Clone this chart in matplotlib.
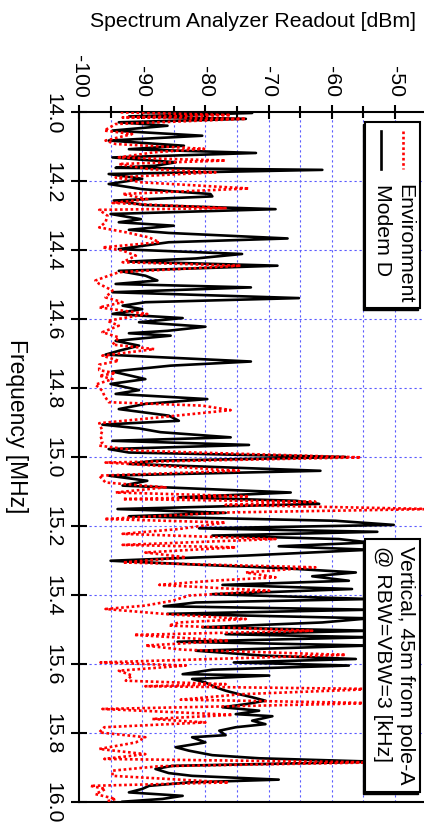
import matplotlib
matplotlib.use("Agg")
import matplotlib.pyplot as plt
from matplotlib.patches import Rectangle
from matplotlib.lines import Line2D
from matplotlib.ticker import MultipleLocator

plt.rcParams['font.family'] = ['Liberation Sans', 'DejaVu Sans']

# ---------------- data ----------------
modem_freq = [14.000, 14.002, 14.012, 14.019, 14.029, 14.039, 14.053, 14.068, 14.082, 14.097,
              14.107, 14.118, 14.131, 14.145, 14.155, 14.161, 14.167, 14.179, 14.193, 14.208,
              14.223, 14.237, 14.244, 14.256, 14.269, 14.281, 14.295, 14.310, 14.319, 14.329,
              14.341, 14.350, 14.366, 14.377, 14.397, 14.411, 14.424, 14.433, 14.445, 14.460,
              14.474, 14.488, 14.498, 14.508, 14.522, 14.539, 14.551, 14.561, 14.571, 14.585,
              14.597, 14.609, 14.622, 14.634, 14.641, 14.648, 14.663, 14.677, 14.692, 14.703,
              14.723, 14.735, 14.752, 14.774, 14.788, 14.806, 14.817, 14.832, 14.846, 14.861,
              14.880, 14.895, 14.906, 14.917, 14.928, 14.943, 14.953, 14.965, 14.977, 14.987,
              15.000, 15.011, 15.020, 15.040, 15.054, 15.069, 15.083, 15.103, 15.117, 15.127,
              15.136, 15.151, 15.162, 15.172, 15.185, 15.197, 15.207, 15.217, 15.228, 15.238,
              15.248, 15.259, 15.269, 15.286, 15.301, 15.313, 15.323, 15.335, 15.346, 15.359,
              15.371, 15.383, 15.398, 15.412, 15.422, 15.433, 15.443, 15.455, 15.468, 15.480,
              15.494, 15.504, 15.514, 15.523, 15.536, 15.547, 15.562, 15.576, 15.586, 15.596,
              15.605, 15.617, 15.630, 15.634, 15.644, 15.654, 15.668, 15.678, 15.688, 15.697,
              15.707, 15.717, 15.726, 15.736, 15.746, 15.752, 15.765, 15.775, 15.784, 15.794,
              15.807, 15.813, 15.828, 15.842, 15.852, 15.865, 15.874, 15.884, 15.896, 15.905,
              15.917, 15.925, 15.936, 15.944, 15.954, 15.963, 15.973, 15.983, 15.992, 16.000]
modem_dbm = [-90.0, -72.6, -92.1, -73.6, -93.7, -86.0, -94.7, -80.5, -95.3, -83.4,
             -92.1, -72.0, -94.7, -84.7, -87.9, -94.2, -61.5, -95.3, -90.0, -95.3,
             -90.0, -79.2, -78.9, -94.5, -89.5, -68.9, -95.0, -90.2, -93.7, -85.0,
             -92.1, -85.8, -67.0, -85.8, -93.7, -74.2, -81.5, -92.1, -68.6, -93.7,
             -89.5, -87.6, -94.2, -72.8, -94.7, -65.2, -89.5, -93.1, -90.0, -94.7,
             -83.6, -90.5, -80.0, -86.0, -92.1, -85.5, -94.2, -90.5, -93.7, -95.8,
             -72.8, -85.5, -94.7, -89.5, -95.0, -90.5, -94.2, -79.7, -89.5, -93.7,
             -85.8, -84.2, -96.3, -90.5, -87.1, -76.0, -94.7, -73.1, -95.3, -92.1,
             -57.8, -88.1, -92.1, -61.8, -95.3, -89.2, -93.1, -66.5, -84.2, -65.7,
             -62.0, -93.9, -76.8, -92.1, -59.4, -50.2, -81.0, -52.8, -78.9, -58.9,
             -54.0, -68.4, -54.0, -73.6, -95.0, -80.5, -67.3, -56.2, -63.1, -57.3,
             -77.3, -56.8, -78.9, -54.0, -81.5, -86.6, -54.0, -86.0, -54.0, -61.5,
             -80.5, -54.0, -76.8, -54.0, -84.4, -54.0, -81.5, -71.0, -56.2, -75.5,
             -57.3, -78.9, -83.6, -69.9, -82.1, -80.0, -78.4, -76.8, -74.7, -72.6,
             -70.5, -73.6, -77.3, -71.5, -75.2, -69.4, -72.6, -70.5, -75.2, -77.8,
             -76.8, -82.1, -80.0, -84.7, -82.6, -78.9, -71.5, -53.0, -85.2, -87.9,
             -85.8, -82.1, -68.4, -82.6, -88.9, -90.0, -92.1, -83.6, -86.8, -93.1]

env_freq = [14.000, 14.002, 14.008, 14.015, 14.019, 14.034, 14.053, 14.063, 14.082, 14.092,
            14.106, 14.116, 14.131, 14.140, 14.150, 14.165, 14.174, 14.189, 14.203, 14.221,
            14.237, 14.252, 14.263, 14.278, 14.283, 14.300, 14.319, 14.334, 14.348, 14.363,
            14.377, 14.392, 14.401, 14.416, 14.435, 14.445, 14.464, 14.474, 14.488, 14.498,
            14.517, 14.537, 14.551, 14.566, 14.585, 14.605, 14.619, 14.638, 14.653, 14.674,
            14.687, 14.706, 14.721, 14.732, 14.748, 14.757, 14.764, 14.774, 14.790, 14.808,
            14.822, 14.841, 14.851, 14.864, 14.885, 14.902, 14.924, 14.938, 14.957, 14.967,
            14.982, 15.001, 15.016, 15.040, 15.054, 15.074, 15.088, 15.103, 15.114, 15.122,
            15.130, 15.139, 15.151, 15.161, 15.180, 15.190, 15.209, 15.223, 15.238, 15.255,
            15.262, 15.277, 15.291, 15.306, 15.320, 15.335, 15.349, 15.359, 15.371, 15.388,
            15.402, 15.417, 15.431, 15.441, 15.456, 15.470, 15.480, 15.489, 15.504, 15.516,
            15.533, 15.547, 15.559, 15.574, 15.596, 15.605, 15.620, 15.634, 15.649, 15.659,
            15.665, 15.673, 15.688, 15.704, 15.714, 15.731, 15.748, 15.760, 15.770, 15.784,
            15.799, 15.813, 15.828, 15.847, 15.862, 15.876, 15.886, 15.897, 15.910, 15.925,
            15.944, 15.954, 15.963, 15.978, 15.992, 16.000]
env_dbm = [-93.4, -89.5, -76.0, -93.1, -73.6, -94.2, -96.0, -91.6, -95.8, -94.2,
           -80.2, -88.1, -93.7, -76.8, -93.7, -88.9, -78.4, -94.2, -90.2, -73.1,
           -93.1, -89.2, -94.7, -76.8, -96.8, -95.5, -95.8, -96.8, -92.6, -88.9,
           -87.3, -96.3, -93.1, -91.0, -93.1, -74.4, -93.7, -95.3, -97.4, -96.8,
           -94.7, -95.8, -93.1, -96.8, -89.2, -95.5, -93.7, -96.3, -93.7, -94.7,
           -88.1, -96.3, -93.7, -96.8, -96.8, -94.2, -96.8, -94.7, -97.4, -96.3,
           -96.0, -95.3, -80.5, -76.0, -87.3, -96.8, -96.3, -96.6, -96.3, -96.8,
           -90.5, -55.4, -95.8, -74.7, -96.8, -95.8, -86.3, -94.2, -73.1, -93.1,
           -62.6, -76.8, -44.0, -76.8, -96.0, -76.8, -84.2, -93.1, -68.9, -93.1,
           -75.2, -89.5, -83.1, -93.1, -62.6, -73.6, -68.9, -78.9, -87.3, -69.9,
           -82.6, -85.2, -89.5, -95.8, -86.0, -73.6, -84.2, -85.8, -63.1, -91.3,
           -76.3, -89.5, -83.6, -57.8, -96.6, -83.1, -93.7, -91.6, -92.6, -76.8,
           -89.5, -53.0, -74.2, -83.9, -53.0, -96.3, -75.7, -88.4, -80.0, -96.0,
           -96.8, -89.5, -91.0, -96.8, -89.5, -96.0, -53.0, -87.3, -94.7, -94.7,
           -76.3, -98.2, -95.8, -97.4, -94.2, -95.8]

dbm_ticks = [-100, -90, -80, -70, -60, -50]
freq_ticks = [14.0, 14.2, 14.4, 14.6, 14.8, 15.0, 15.2, 15.4, 15.6, 15.8, 16.0]
freq_labels = ["14.0", "14.2", "14.4", "14.6", "14.8", "15.0", "15.2", "15.4", "15.6", "15.8", "16.0"]
legend_labels = ["Environment", "Modem D"]
note_lines = ["Vertical, 45m from pole-A", "@ RBW=VBW=3 [kHz]"]

# ---------------- figure ----------------
W, H = 424, 829
fig = plt.figure(figsize=(W / 100, H / 100), dpi=100)

def fx(px):
    return px / W

def fy(py):
    return 1 - py / H

ax_left, ax_top, ax_bottom = 79, 113.3, 802.7
ax_width_px = 60 * 6.32
ax = fig.add_axes([fx(ax_left), fy(ax_bottom), ax_width_px / W, (ax_bottom - ax_top) / H])
ax.set_xlim(-100, -40)
ax.set_ylim(16.0, 14.0)

FS = 15.3
ax.plot(modem_dbm, modem_freq, color='black', lw=1.9, zorder=3)
ax.plot(env_dbm, env_freq, color='red', lw=1.9, linestyle=(0, (1, 1)), zorder=4)

# grid
grid_kw = dict(color='#5a5aff', lw=0.8, linestyle=(0, (2, 2.5)), zorder=1)
for v in range(-95, -40, 5):
    ax.axvline(v, **grid_kw)
for f in freq_ticks[1:-1]:
    ax.axhline(f, **grid_kw)

# axes styling
ax.xaxis.set_ticks_position('top')
ax.set_xticks(dbm_ticks)
ax.set_xticklabels([str(t) for t in dbm_ticks])
ax.xaxis.set_minor_locator(MultipleLocator(5))
ax.set_yticks(freq_ticks)
ax.set_yticklabels(freq_labels)
ax.tick_params(axis='x', which='major', direction='inout', length=10, width=1.5,
               labelsize=FS, labelrotation=-90, pad=6.5, top=True, bottom=False)
ax.tick_params(axis='x', which='minor', direction='inout', length=8, width=1.5,
               top=True, bottom=False)
ax.tick_params(axis='y', which='major', direction='inout', length=12, width=1.5,
               labelsize=FS, labelrotation=-90, pad=6, left=True, right=False)
for lab in ax.get_yticklabels():
    lab.set_va('center')
for lab in ax.get_xticklabels():
    lab.set_ha('center')
for s in ['left', 'top', 'bottom']:
    ax.spines[s].set_linewidth(1.5)
ax.spines['right'].set_visible(False)

# axis titles
fig.text(fx(252.5), fy(26.7), "Spectrum Analyzer Readout [dBm]", fontsize=FS,
         ha='center', va='baseline')
fig.text(fx(16), fy(426), "Frequency [MHz]", fontsize=16.5, rotation=-90,
         ha='center', va='center')

# boxes (legend and note) drawn in figure pixels
def draw_box(x0, y0, x1, y1):
    sh = Rectangle((fx(x0 - 2), fy(y1 + 2)), (x1 - x0) / W, (y1 - y0) / H,
                   transform=fig.transFigure, facecolor='black', edgecolor='black',
                   lw=1.0, zorder=10)
    bx = Rectangle((fx(x0), fy(y1)), (x1 - x0) / W, (y1 - y0) / H,
                   transform=fig.transFigure, facecolor='white', edgecolor='black',
                   lw=1.5, zorder=11)
    fig.add_artist(sh)
    fig.add_artist(bx)

draw_box(365, 123, 420, 309)
fig.add_artist(Line2D([fx(403), fx(403)], [fy(132), fy(170)], transform=fig.transFigure,
                      color='red', lw=1.9, linestyle=(0, (1, 1)), zorder=12))
fig.add_artist(Line2D([fx(381), fx(381)], [fy(132), fy(170)], transform=fig.transFigure,
                      color='black', lw=1.9, zorder=12))
fig.text(fx(405), fy(184), legend_labels[0], fontsize=FS, rotation=-90,
         ha='center', va='top', zorder=12)
fig.text(fx(382.5), fy(184), legend_labels[1], fontsize=FS, rotation=-90,
         ha='center', va='top', zorder=12)

draw_box(365, 540, 420, 793)
fig.text(fx(405), fy(546), note_lines[0], fontsize=FS, rotation=-90,
         ha='center', va='top', zorder=12)
fig.text(fx(382.5), fy(546), note_lines[1], fontsize=FS, rotation=-90,
         ha='center', va='top', zorder=12)

fig.savefig("out.png", dpi=100)
